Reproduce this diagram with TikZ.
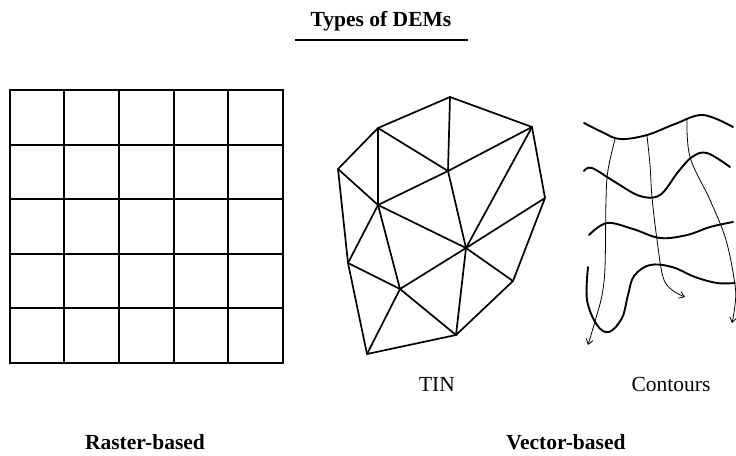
\documentclass[tikz,border=0pt]{standalone}
\usepackage{fontspec}
\setmainfont{Liberation Serif}
\usepackage{tikz}
\usetikzlibrary{arrows.meta}

\begin{document}
\begin{tikzpicture}[x=1pt, y=-1pt,
    label/.style={font=\fontsize{21.5}{26}\selectfont, anchor=base, inner sep=0pt},
    headline/.style={label, font=\fontsize{21.5}{26}\selectfont\bfseries},
    cell/.style={line width=2pt, line cap=rect},
    edge/.style={line width=1.7pt, line cap=round, line join=round},
    contour/.style={line width=1.9pt, line cap=round},
    flow/.style={line width=0.8pt, -{Straight Barb[length=5pt, width=7pt]}}]
    \useasboundingbox (0,0) rectangle (736,455);

    % title
    \node[headline] (title) at (381,27) {Types of DEMs};
    \coordinate (ul) at (295,40);
    \coordinate (ur) at (468,40);
    \draw[line width=2.6pt] (ul) -- (ur);

    % raster grid
    \foreach \k in {0,...,5} {
        \draw[cell] (9.5+54.7*\k,90) -- (9.5+54.7*\k,363);
        \draw[cell] (9.5,90+54.6*\k) -- (283,90+54.6*\k);
    }

    % TIN vertices
    \coordinate (a) at (450,97);
    \coordinate (b) at (378,128);
    \coordinate (c) at (532,127);
    \coordinate (d) at (338,169);
    \coordinate (e) at (448,171);
    \coordinate (f) at (378,205);
    \coordinate (g) at (545,198);
    \coordinate (h) at (348,263);
    \coordinate (i) at (466,248);
    \coordinate (j) at (400,289);
    \coordinate (k) at (513,281);
    \coordinate (l) at (456,335);
    \coordinate (m) at (367,354);
    \draw[edge] (b) -- (a) -- (c) -- (g) -- (k) -- (l) -- (m) -- (h) -- (d) -- cycle;
    \foreach \p/\q in {a/e, b/e, b/f, d/f, e/f, c/e, c/i, e/i, f/i, g/i, i/k,
                       f/h, f/j, h/j, j/i, i/l, j/l, j/m}
        \draw[edge] (\p) -- (\q);

    % contours
    \draw[contour] plot[smooth, tension=0.6] coordinates
        {(584,123) (602,132) (620,139) (647,135) (675,124) (703,115) (733,127)};
    \draw[contour] plot[smooth, tension=0.6] coordinates
        {(584,171) (592,168) (615,182) (640,196) (660,195) (678,172) (692,157) (707,153) (730,167)};
    \draw[contour] plot[smooth, tension=0.6] coordinates
        {(589,235) (607,223) (633,229) (660,238) (687,235) (710,227) (733,222)};
    \draw[contour] plot[smooth, tension=0.6] coordinates
        {(588,267) (587,300) (597,325) (609,332) (622,318) (628,295) (634,276) (650,265) (672,267) (695,277) (717,283) (735,283)};

    % flow lines
    \draw[flow] plot[smooth, tension=0.6] coordinates
        {(615,139) (608,170) (606,200) (605,267) (602,295) (596,318) (588,345)};
    \draw[flow] plot[smooth, tension=0.6] coordinates
        {(647,136) (650,165) (652,197) (657,240) (663,277) (672,290) (685,297)};
    \draw[flow] plot[smooth, tension=0.6] coordinates
        {(687,118) (690,157) (710,200) (726,240) (735,285) (735,305) (732,323)};

    % labels
    \node[label] (tin) at (437,391) {TIN};
    \node[label] (contours) at (671,391) {Contours};
    \node[headline] (raster) at (145,449) {Raster-based};
    \node[headline] (vector) at (566,449) {Vector-based};
\end{tikzpicture}
\end{document}
